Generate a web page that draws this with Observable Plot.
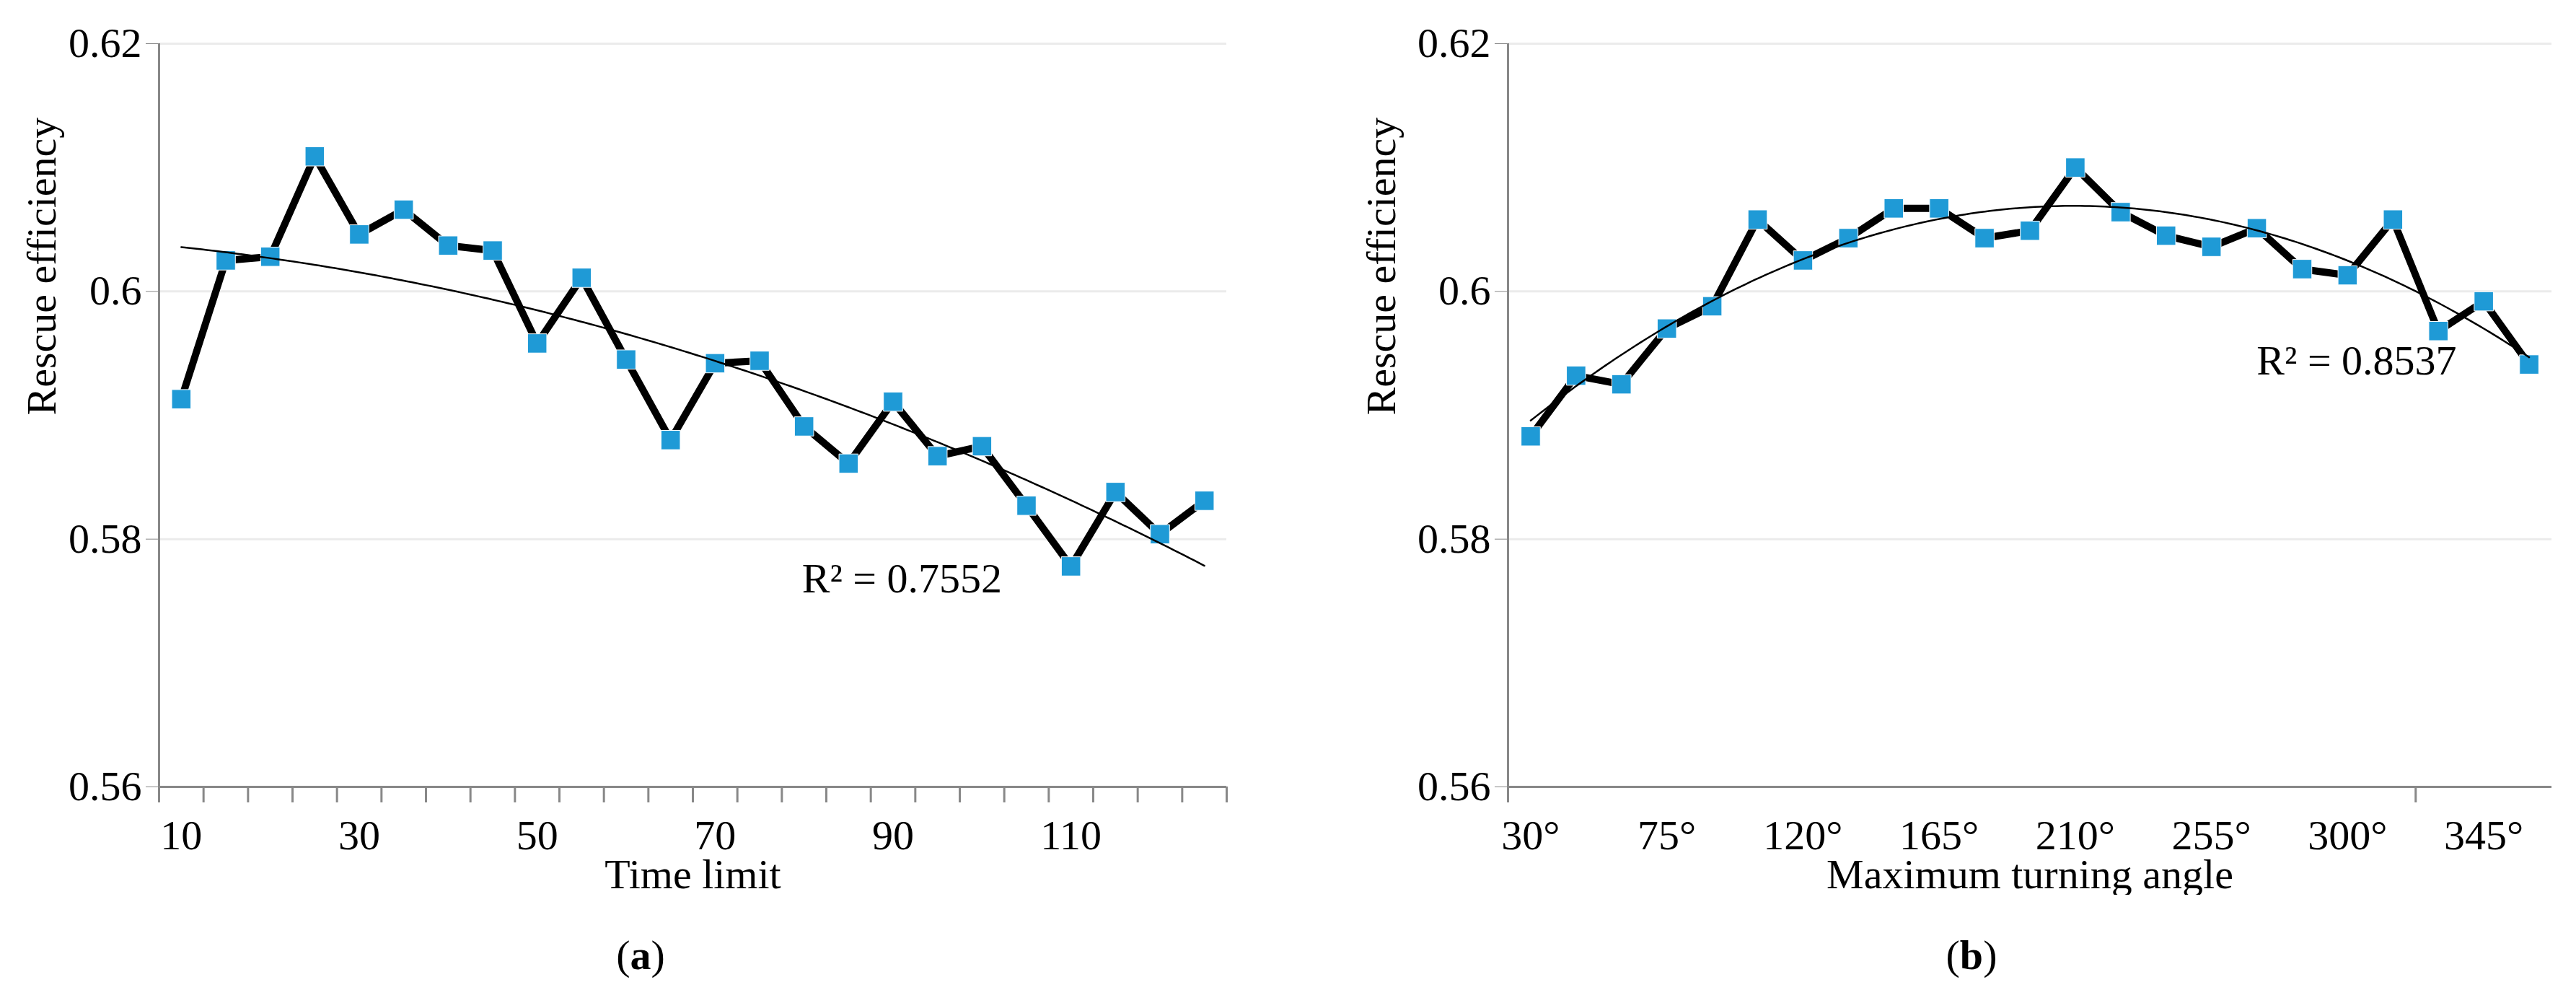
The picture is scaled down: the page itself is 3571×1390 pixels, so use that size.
<!DOCTYPE html>
<html><head><meta charset="utf-8">
<script src="https://cdn.jsdelivr.net/npm/d3@7"></script>
<script src="https://cdn.jsdelivr.net/npm/@observablehq/plot@0.6"></script>
<style>
body{margin:0;background:#fff;font-family:"Liberation Serif","Times New Roman",serif;}
#wrap{display:flex;width:3571px;}
.panel{position:relative;width:1785px;height:1390px;}
.panel:last-child{width:1786px;}
.cap{position:absolute;top:1290px;font-size:58px;transform:translateX(-50%);}
</style></head>
<body><div id="wrap"><div class="panel" id="pa"></div><div class="panel" id="pb"></div></div>
<script>
const timeLimit=[10,15,20,25,30,35,40,45,50,55,60,65,70,75,80,85,90,95,100,105,110,115,120,125];
const effA=[0.5913,0.6025,0.6028,0.6109,0.6046,0.6066,0.6037,0.6033,0.5958,0.6011,0.5945,0.5880,0.5942,0.5944,0.5891,0.5861,0.5911,0.5867,0.5875,0.5827,0.5778,0.5838,0.5804,0.5831];
const angles=[30,45,60,75,90,105,120,135,150,165,180,195,210,225,240,255,270,285,300,315,330,345,360];
const effB=[0.5883,0.5932,0.5925,0.5970,0.5988,0.6058,0.6025,0.6043,0.6067,0.6067,0.6043,0.6049,0.6100,0.6064,0.6045,0.6036,0.6051,0.6018,0.6013,0.6058,0.5968,0.5992,0.5941];
const ticksA=[10,30,50,70,90,110];
const ticksB=[30,75,120,165,210,255,300,345];
const yTicks=[0.56,0.58,0.6,0.62];
const r2A="R² = 0.7552", r2B="R² = 0.8537";

function quadFit(xs,ys){
  const n=xs.length;let S=[0,0,0,0,0],T=[0,0,0];
  xs.forEach((x,i)=>{for(let k=0;k<5;k++)S[k]+=x**k;for(let k=0;k<3;k++)T[k]+=ys[i]*x**k;});
  const A=[[S[0],S[1],S[2],T[0]],[S[1],S[2],S[3],T[1]],[S[2],S[3],S[4],T[2]]];
  for(let i=0;i<3;i++){for(let j=i+1;j<3;j++){const f=A[j][i]/A[i][i];for(let k=i;k<4;k++)A[j][k]-=f*A[i][k];}}
  const c=[0,0,0];for(let i=2;i>=0;i--){let s=A[i][3];for(let k=i+1;k<3;k++)s-=A[i][k]*c[k];c[i]=s/A[i][i];}
  const x0=xs[0],x1=xs[n-1];
  return d3.range(0,201).map(i=>{const x=x0+(x1-x0)*i/200;return {x,y:c[0]+c[1]*x+c[2]*x*x};});
}

const font='"Liberation Serif","Times New Roman",serif';
function panel(xs,ys,xt,step,xlabel,r2,r2pos,ml,mr,tickMarks,ylx){
  const data=xs.map((x,i)=>({x,y:ys[i]}));
  const half=step/2;
  return Plot.plot({
    width:ml===220?1785:1786,height:1240,marginLeft:ml,marginRight:mr,marginTop:60,marginBottom:150,
    style:{fontFamily:font,fontSize:"56px",color:"#000",background:"#fff"},
    x:{domain:[xs[0]-half,xs[xs.length-1]+half]},
    y:{domain:[0.56,0.62]},
    marks:[
      Plot.ruleY(yTicks.slice(1),{stroke:"#ebebeb",strokeWidth:3}),
      Plot.ruleY([0.56],{stroke:"#888",strokeWidth:3}),
      Plot.ruleX([xs[0]-half],{stroke:"#888",strokeWidth:3}),
      Plot.axisY(yTicks,{tickSize:18,tickPadding:6,stroke:"#888",tickFormat:d=>String(+d.toFixed(2)),fontSize:58,fill:"#000",label:null}),
      Plot.axisX(tickMarks,{tickSize:22,tickFormat:()=>"",stroke:"#888",strokeWidth:3,label:null}),
      Plot.axisX(xt,{tickSize:0,tickPadding:45,fontSize:58,fill:"#000",tickFormat:d=>step===15?d+"°":d,label:null}),
      Plot.text([xlabel],{frameAnchor:"bottom",dy:140,fontSize:58,fill:"#000"}),
      Plot.text(["Rescue efficiency"],{frameAnchor:"left",dx:-ml+ylx,rotate:-90,fontSize:58,fill:"#000"}),
      Plot.line(data,{x:"x",y:"y",stroke:"#000",strokeWidth:10,strokeLinejoin:"round"}),
      Plot.dot(data,{x:"x",y:"y",symbol:"square",r:15,fill:"#1f9ad6",stroke:"#fff",strokeWidth:1}),
      Plot.line(quadFit(xs,ys),{x:"x",y:"y",stroke:"#000",strokeWidth:2.5}),
      Plot.text([r2],{x:()=>r2pos[0],y:()=>r2pos[1],fontSize:58,fill:"#000"})
    ]
  });
}
const bA=timeLimit.map(x=>x-2.5).concat([127.5]);
document.getElementById("pa").append(panel(timeLimit,effA,ticksA,5,"Time limit",r2A,[91,0.5768],220,85,bA,58));
const capA=document.createElement("div");capA.className="cap";capA.style.left="888px";capA.innerHTML="(<b>a</b>)";document.getElementById("pa").append(capA);
document.getElementById("pb").append(panel(angles,effB,ticksB,15,"Maximum turning angle",r2B,[303,0.5944],305,34,[22.5,322.5],130));
const capB=document.createElement("div");capB.className="cap";capB.style.left="948px";capB.innerHTML="(<b>b</b>)";document.getElementById("pb").append(capB);
</script></body></html>
